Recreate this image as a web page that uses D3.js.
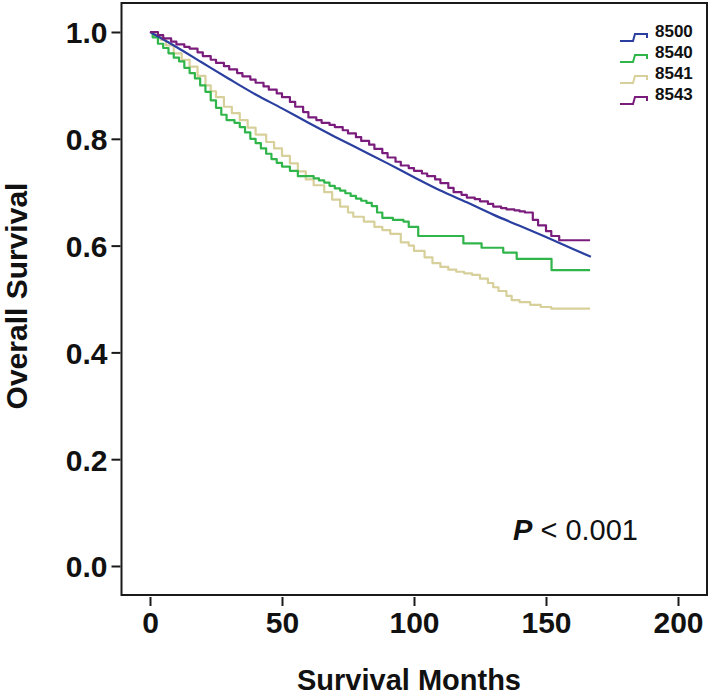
<!DOCTYPE html>
<html>
<head>
<meta charset="utf-8">
<script src="https://cdn.jsdelivr.net/npm/d3@7"></script>
<style>
  html, body { margin: 0; padding: 0; background: #fff; }
  svg { display: block; font-family: "Liberation Sans", Arial, sans-serif; }
</style>
</head>
<body>
<svg id="chart" width="709" height="698"></svg>
<script>
// ---------------- DATA ----------------
const seriesNames = ["8500", "8540", "8541", "8543"];
const seriesColors = ["#2a3f9f", "#2fb54a", "#d8d09a", "#7a1c7c"];

const xTicks = [0, 50, 100, 150, 200];
const yTicks = [0.0, 0.2, 0.4, 0.6, 0.8, 1.0];

// 8500 (smooth, large group)
const months8500 = [0, 10, 20, 30, 40, 50, 60, 70, 80, 90, 100, 110, 120, 130, 140, 150, 160, 167];
const surv8500   = [1.0, 0.972, 0.942, 0.912, 0.883, 0.857, 0.830, 0.804, 0.779, 0.754, 0.728, 0.703, 0.681, 0.658, 0.637, 0.616, 0.594, 0.579];

// 8540
const months8540 = [0, 1, 3, 5, 7, 9, 11, 13, 15, 17, 19, 21, 23, 25, 27, 29, 32, 34, 36, 38, 40, 42, 44, 46, 48, 50, 53, 56, 62, 64, 66, 68, 70, 72, 74, 76, 78, 80, 82, 84, 86, 88, 92, 96, 98, 101.6, 118.7, 125.6, 133.8, 138.9, 152.1, 166.7];
const surv8540   = [1.0, 0.990, 0.978, 0.970, 0.960, 0.952, 0.945, 0.933, 0.923, 0.913, 0.900, 0.888, 0.872, 0.858, 0.845, 0.835, 0.830, 0.822, 0.812, 0.800, 0.792, 0.782, 0.772, 0.762, 0.755, 0.748, 0.740, 0.730, 0.726, 0.722, 0.718, 0.712, 0.707, 0.703, 0.698, 0.693, 0.688, 0.684, 0.680, 0.674, 0.662, 0.652, 0.648, 0.645, 0.635, 0.618, 0.604, 0.596, 0.587, 0.575, 0.554, 0.554];

// 8541
const months8541 = [0, 2, 4, 6, 9, 12, 15, 18, 21, 23, 25, 28, 31, 34, 37, 40, 44, 47, 50, 53, 56, 59, 62, 66, 69, 72, 75, 77, 81, 85, 88, 91, 95, 98, 100, 104, 107, 110, 113, 116, 119, 122, 125, 128, 130, 132, 135, 137, 140, 144, 148, 152, 166.7];
const surv8541   = [1.0, 0.993, 0.985, 0.975, 0.960, 0.948, 0.935, 0.918, 0.900, 0.889, 0.878, 0.860, 0.848, 0.835, 0.821, 0.808, 0.794, 0.782, 0.768, 0.754, 0.739, 0.724, 0.713, 0.700, 0.686, 0.673, 0.662, 0.654, 0.645, 0.635, 0.629, 0.622, 0.606, 0.600, 0.590, 0.578, 0.567, 0.560, 0.555, 0.551, 0.548, 0.545, 0.538, 0.530, 0.522, 0.515, 0.506, 0.498, 0.494, 0.489, 0.485, 0.482, 0.482];

// 8543
const months8543 = [0, 3, 5, 8, 10, 13, 15, 18, 20, 23, 25, 28, 30, 33, 35, 38, 40, 43, 45, 48, 50, 53, 55, 58, 60, 63, 65, 68, 70, 73, 75, 78, 80, 83, 85, 88, 90, 93, 95, 98, 100, 103, 105, 108, 110, 113, 115, 118, 120, 123, 125, 128, 130, 133, 135, 138, 140, 142, 145, 147, 150, 152, 155, 166.7];
const surv8543   = [1.0, 0.994, 0.988, 0.982, 0.977, 0.972, 0.969, 0.962, 0.955, 0.948, 0.942, 0.936, 0.930, 0.923, 0.917, 0.911, 0.905, 0.898, 0.892, 0.885, 0.878, 0.869, 0.860, 0.850, 0.840, 0.835, 0.830, 0.826, 0.822, 0.816, 0.810, 0.803, 0.796, 0.789, 0.781, 0.773, 0.765, 0.757, 0.750, 0.745, 0.740, 0.735, 0.730, 0.724, 0.717, 0.708, 0.700, 0.695, 0.690, 0.687, 0.683, 0.678, 0.673, 0.670, 0.668, 0.666, 0.664, 0.662, 0.648, 0.638, 0.627, 0.618, 0.610, 0.610];

const seriesMonths = [months8500, months8540, months8541, months8543];
const seriesSurv = [surv8500, surv8540, surv8541, surv8543];

const xLabel = "Survival Months";
const yLabel = "Overall Survival";
const pLabel = "P";
const pRest = " < 0.001";

// ---------------- LAYOUT ----------------
const svg = d3.select("#chart");
const box = { left: 121.5, top: 3, right: 707, bottom: 595 };

const x = d3.scaleLinear().domain([0, 200]).range([150, 678]);
const y = d3.scaleLinear().domain([0, 1]).range([566, 32]);

// plot frame
svg.append("rect")
  .attr("x", box.left).attr("y", box.top)
  .attr("width", box.right - box.left).attr("height", box.bottom - box.top)
  .attr("fill", "none").attr("stroke", "#1a1a1a").attr("stroke-width", 2);

// x axis (ticks detached below the frame)
const gx = svg.append("g")
  .attr("transform", `translate(0,${box.bottom + 2})`)
  .call(d3.axisBottom(x).tickValues(xTicks).tickSize(9).tickSizeOuter(0).tickFormat(d3.format("d")));
gx.select(".domain").remove();
gx.selectAll(".tick line").attr("stroke", "#1a1a1a").attr("stroke-width", 2);
gx.selectAll(".tick text")
  .attr("y", 36).attr("dy", 0)
  .attr("font-size", 30).attr("font-weight", "bold").attr("fill", "#111")
  .attr("font-family", "'Liberation Sans', Arial, sans-serif");

// y axis
const gy = svg.append("g")
  .attr("transform", `translate(${box.left - 1},0)`)
  .call(d3.axisLeft(y).tickValues(yTicks).tickSize(9).tickSizeOuter(0).tickFormat(d3.format(".1f")));
gy.select(".domain").remove();
gy.selectAll(".tick line").attr("stroke", "#1a1a1a").attr("stroke-width", 2);
gy.selectAll(".tick text")
  .attr("x", -13).attr("dy", "0.36em")
  .attr("font-size", 30).attr("font-weight", "bold").attr("fill", "#111")
  .attr("font-family", "'Liberation Sans', Arial, sans-serif");

// axis titles
svg.append("text")
  .attr("x", 409).attr("y", 690)
  .attr("text-anchor", "middle")
  .attr("font-size", 29).attr("font-weight", "bold").attr("fill", "#111")
  .text(xLabel);

svg.append("text")
  .attr("transform", "translate(27,296) rotate(-90)")
  .attr("text-anchor", "middle")
  .attr("font-size", 30).attr("font-weight", "bold").attr("fill", "#111")
  .text(yLabel);

// curves
const stepLine = d3.line().x(d => x(d[0])).y(d => y(d[1])).curve(d3.curveStepAfter);
const smoothLine = d3.line().x(d => x(d[0])).y(d => y(d[1])).curve(d3.curveMonotoneX);

// draw in order: tan, green, blue, purple
const drawOrder = [2, 1, 0, 3];
drawOrder.forEach(i => {
  const pts = seriesMonths[i].map((m, k) => [m, seriesSurv[i][k]]);
  svg.append("path")
    .attr("d", (i === 0 ? smoothLine : stepLine)(pts))
    .attr("fill", "none")
    .attr("stroke", seriesColors[i])
    .attr("stroke-width", 2.2)
    .attr("stroke-linejoin", "round");
});

// legend
const legX = 620, legTextX = 655, legY0 = 31, legStep = 21;
seriesNames.forEach((name, i) => {
  const cy = legY0 + i * legStep;
  const p = d3.path();
  p.moveTo(legX, cy + 10);
  p.lineTo(legX + 13, cy + 10);
  p.lineTo(legX + 15, cy + 3);
  p.lineTo(legX + 27, cy + 3);
  p.lineTo(legX + 27, cy + 7);
  svg.append("path")
    .attr("d", p.toString())
    .attr("fill", "none").attr("stroke", seriesColors[i]).attr("stroke-width", 2);
  svg.append("text")
    .attr("x", legTextX).attr("y", cy).attr("dy", "0.36em")
    .attr("font-size", 17).attr("font-weight", "bold").attr("fill", "#111")
    .text(name);
});

// p value
const pt = svg.append("text")
  .attr("x", 513).attr("y", 540)
  .attr("font-size", 29).attr("fill", "#111");
pt.append("tspan").attr("font-weight", "bold").attr("font-style", "italic").text(pLabel);
pt.append("tspan").text(pRest);
</script>
</body>
</html>
